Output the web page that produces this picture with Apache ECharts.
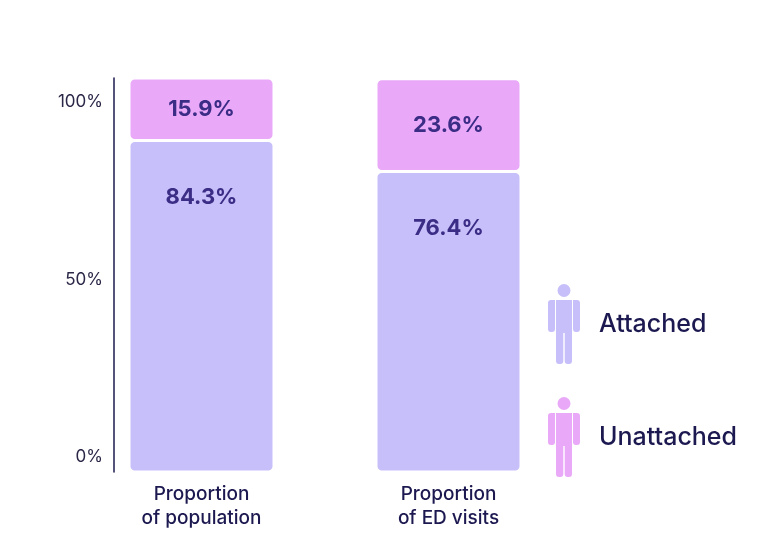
<!DOCTYPE html>
<html>
<head>
<meta charset="utf-8">
<script src="https://cdn.jsdelivr.net/npm/echarts@6/dist/echarts.min.js"></script>
<style>
    html, body { margin: 0; padding: 0; background: #fff; }
    #chart { width: 768px; height: 545px; }
</style>
</head>
<body>
<div id="chart"></div>
<script>
    var categories = ['Proportion\nof population', 'Proportion\nof ED visits'];
    var attached = [84.3, 76.4];
    var unattached = [15.9, 23.6];
    var tickValues = [0, 50, 100];

    // person glyph used as legend icon (32 x 80 box)
    var person = 'path://M16,0a6.5,6.5 0 1,1 0,13a6.5,6.5 0 1,1 0,-13Z' +
        'M8,16L24,16L24,49L8,49Z' +
        'M0,19Q0,16 3,16L7,16L7,45Q7,48 4,48L3,48Q0,48 0,45Z' +
        'M25,16L29,16Q32,16 32,19L32,45Q32,48 29,48L28,48Q25,48 25,45Z' +
        'M8,49L15.3,49L15.3,77Q15.3,80 12.3,80L11,80Q8,80 8,77Z' +
        'M16.7,49L24,49L24,77Q24,80 21,80L19.7,80Q16.7,80 16.7,77Z';

    var navy = '#1c1850';
    var labelColor = '#3b2c86';

    var myChart = echarts.init(document.getElementById('chart'));
    var option = {
        backgroundColor: '#fff',
        textStyle: { fontFamily: 'Inter' },
        animation: false,
        grid: { left: 78, width: 494, top: 78, bottom: 73 },
        legend: {
            orient: 'vertical',
            left: 543,
            top: 279,
            itemWidth: 32,
            itemHeight: 80,
            itemGap: 33,
            selectedMode: false,
            itemStyle: { borderWidth: 0 },
            data: [
                { name: 'Attached', icon: person },
                { name: 'Unattached', icon: person }
            ],
            textStyle: { fontSize: 25, fontWeight: 500, color: navy, fontFamily: 'Inter', padding: [0, 0, 0, 14] }
        },
        xAxis: {
            type: 'category',
            data: categories,
            axisLine: { show: false },
            axisTick: { show: false },
            axisLabel: { margin: 10, fontSize: 19, fontWeight: 500, lineHeight: 24, color: navy, fontFamily: 'Inter' }
        },
        yAxis: [
            {
                type: 'value',
                min: 0,
                max: 100.2,
                show: false
            },
            {
                type: 'value',
                position: 'left',
                offset: -36,
                min: -4.225,
                max: 106.76,
                splitLine: { show: false },
                axisLine: { show: true, lineStyle: { color: navy, width: 1.5 } },
                axisTick: { show: false },
                axisLabel: {
                    customValues: tickValues,
                    formatter: '{value}%',
                    fontSize: 17,
                    color: '#2a2747',
                    margin: 11,
                    fontFamily: 'Inter'
                }
            }
        ],
        series: [
            {
                name: 'Attached',
                type: 'bar',
                stack: 'total',
                yAxisIndex: 0,
                barWidth: 145,
                data: attached,
                itemStyle: { color: '#c7bff9', borderRadius: 5, borderColor: '#fff', borderWidth: 1.5 },
                label: {
                    show: true,
                    position: 'insideTop',
                    distance: 46,
                    formatter: '{c}%',
                    fontSize: 22,
                    fontWeight: 'bold',
                    color: labelColor,
                    fontFamily: 'Inter'
                }
            },
            {
                name: 'Unattached',
                type: 'bar',
                stack: 'total',
                yAxisIndex: 0,
                barWidth: 145,
                data: unattached,
                itemStyle: { color: '#e9a9f8', borderRadius: 5, borderColor: '#fff', borderWidth: 1.5 },
                label: {
                    show: true,
                    position: 'inside',
                    formatter: '{c}%',
                    fontSize: 22,
                    fontWeight: 'bold',
                    color: labelColor,
                    fontFamily: 'Inter'
                }
            }
        ]
    };
    myChart.setOption(option);
</script>
</body>
</html>
